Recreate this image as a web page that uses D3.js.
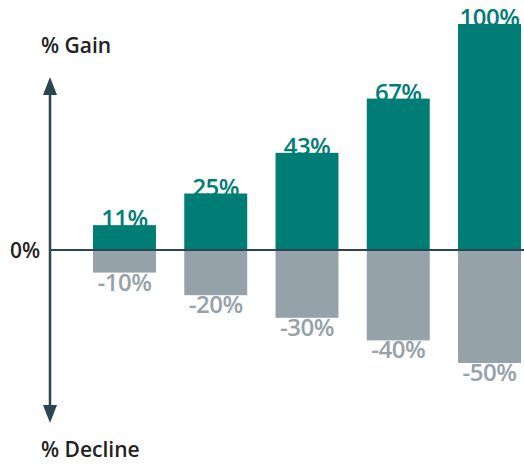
<!DOCTYPE html>
<html>
<head>
<meta charset="utf-8">
<script src="https://cdn.jsdelivr.net/npm/d3@7"></script>
<style>
  html, body { margin: 0; padding: 0; background: #fff; }
  svg { display: block; font-family: "Open Sans", Lato, sans-serif; }
</style>
</head>
<body>
<div id="chart"></div>
<script>
var steps = [0, 1, 2, 3, 4];
var gains = [11, 25, 43, 67, 100];
var declines = [-10, -20, -30, -40, -50];
var gainLabels = ["11%", "25%", "43%", "67%", "100%"];
var declineLabels = ["-10%", "-20%", "-30%", "-40%", "-50%"];

var w = 524, h = 464;
var teal = "#007d75", grey = "#95a2aa", axisColor = "#2b4551", ink = "#222";

var svg = d3.select("#chart").append("svg")
    .attr("width", w)
    .attr("height", h);

var x = d3.scaleBand()
    .domain(steps)
    .range([93, 521])
    .paddingInner(0.31)
    .paddingOuter(0);

var y = d3.scaleLinear()
    .domain([-50, 100])
    .range([363, 24]);

var axisX = 50;

// labels first so the bars sit slightly over them
svg.selectAll("text.gain")
    .data(steps)
    .enter()
    .append("text")
    .attr("class", "gain")
    .attr("x", function(d) { return x(d) + x.bandwidth() / 2; })
    .attr("y", function(d) { return y(gains[d]) + 2; })
    .attr("text-anchor", "middle")
    .style("font-size", "24px")
    .style("font-weight", 600)
    .style("letter-spacing", "-0.5px")
    .style("fill", teal)
    .text(function(d) { return gainLabels[d]; });

svg.selectAll("text.decline")
    .data(steps)
    .enter()
    .append("text")
    .attr("class", "decline")
    .attr("x", function(d) { return x(d) + x.bandwidth() / 2; })
    .attr("y", function(d) { return y(declines[d]) + 18; })
    .attr("text-anchor", "middle")
    .style("font-size", "24px")
    .style("font-weight", 600)
    .style("letter-spacing", "-0.5px")
    .style("fill", grey)
    .text(function(d) { return declineLabels[d]; });

svg.selectAll("rect.gain")
    .data(steps)
    .enter()
    .append("rect")
    .attr("class", "gain")
    .attr("x", function(d) { return x(d); })
    .attr("y", function(d) { return y(gains[d]); })
    .attr("width", x.bandwidth())
    .attr("height", function(d) { return y(0) - y(gains[d]); })
    .style("fill", teal);

svg.selectAll("rect.decline")
    .data(steps)
    .enter()
    .append("rect")
    .attr("class", "decline")
    .attr("x", function(d) { return x(d); })
    .attr("y", y(0))
    .attr("width", x.bandwidth())
    .attr("height", function(d) { return y(declines[d]) - y(0); })
    .style("fill", grey);

// zero line
svg.append("line")
    .attr("x1", axisX).attr("x2", w)
    .attr("y1", y(0)).attr("y2", y(0))
    .style("stroke", axisColor)
    .style("stroke-width", 2);

// vertical double arrow
svg.append("line")
    .attr("x1", axisX).attr("x2", axisX)
    .attr("y1", 92).attr("y2", 408)
    .style("stroke", axisColor)
    .style("stroke-width", 2.5);

svg.append("path")
    .attr("d", "M" + axisX + ",77 L" + (axisX + 7) + ",95 L" + (axisX - 7) + ",95 Z")
    .style("fill", axisColor);

svg.append("path")
    .attr("d", "M" + axisX + ",423 L" + (axisX + 7) + ",405 L" + (axisX - 7) + ",405 Z")
    .style("fill", axisColor);

svg.append("text")
    .attr("x", 41).attr("y", 53)
    .style("font-size", "21px")
    .style("font-weight", 600)
    .style("fill", ink)
    .text("% Gain");

svg.append("text")
    .attr("x", 41).attr("y", 457)
    .style("font-size", "21px")
    .style("font-weight", 600)
    .style("fill", ink)
    .text("% Decline");

svg.append("text")
    .attr("x", 10).attr("y", 258)
    .style("font-size", "21px")
    .style("font-weight", 600)
    .style("fill", ink)
    .text("0%");
</script>
</body>
</html>
